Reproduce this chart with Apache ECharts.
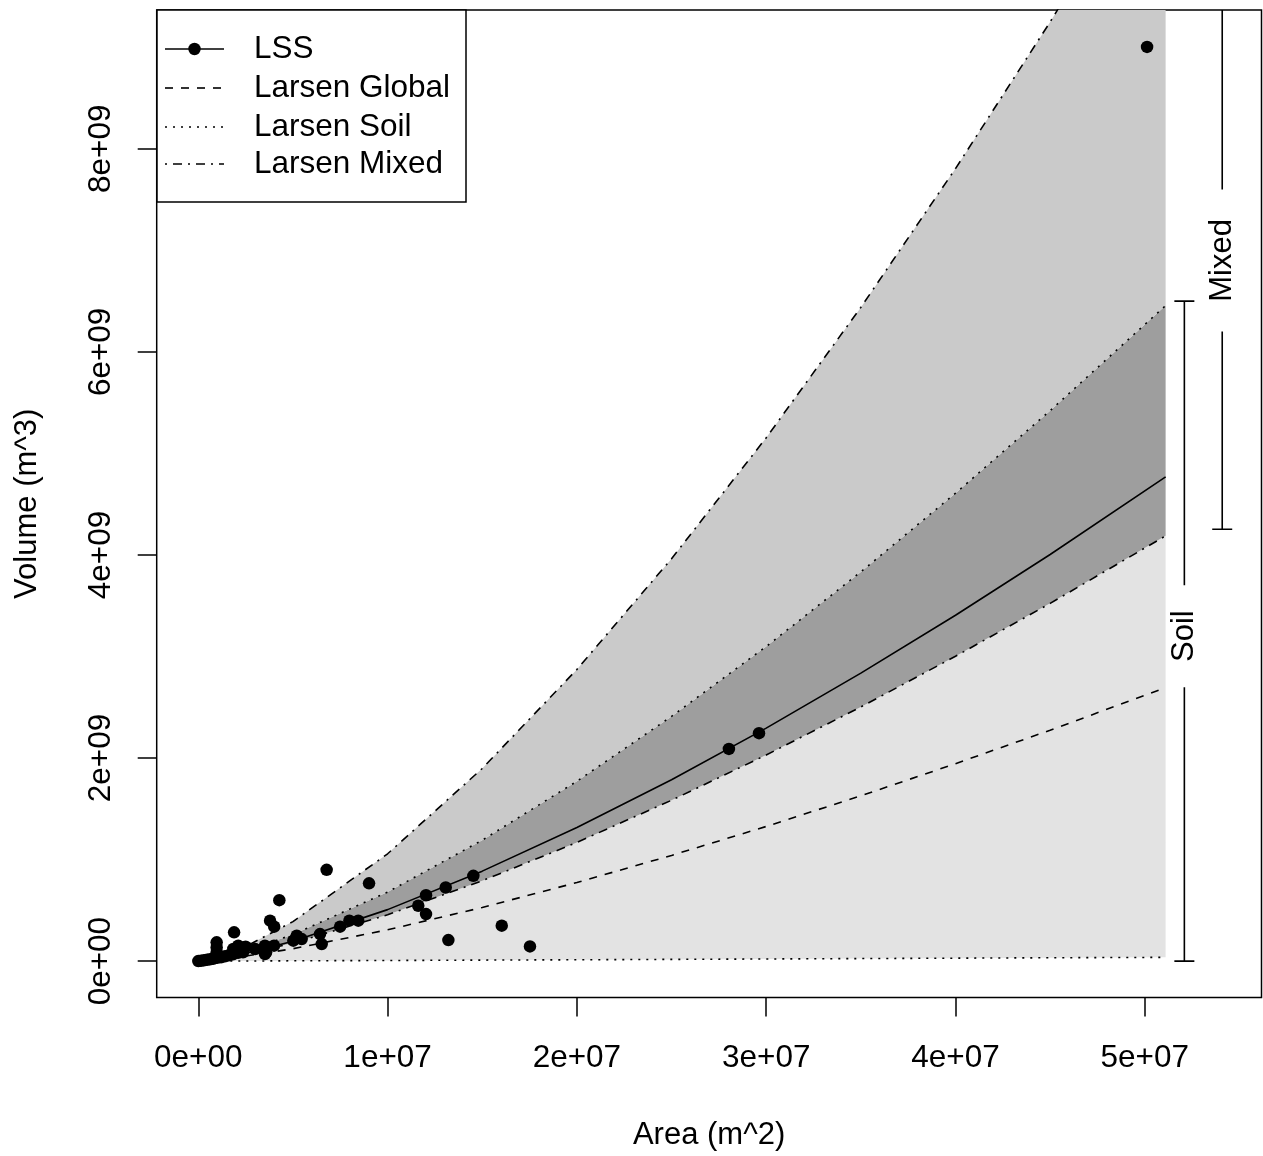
<!DOCTYPE html>
<html>
<head>
<meta charset="utf-8">
<script src="https://cdn.jsdelivr.net/npm/echarts@6/dist/echarts.min.js"></script>
<style>
  html, body { margin: 0; padding: 0; background: #fff; }
  #main { width: 1263px; height: 1156px; }
</style>
</head>
<body>
<div id="main"></div>
<script>
// area in units of 1e7 m^2, volume in units of 1e9 m^3
const curveArea = [0, 0.25, 0.5, 1, 1.5, 2, 2.5, 3, 3.5, 4, 4.5, 5.11];
const lssFit    = [0, 0.076, 0.196, 0.507, 0.886, 1.315, 1.786, 2.294, 2.836, 3.406, 4.004, 4.768];
const globalFit = [0, 0.049, 0.122, 0.308, 0.528, 0.774, 1.041, 1.326, 1.628, 1.944, 2.274, 2.693];
const soilLow   = [0, 0.001, 0.003, 0.006, 0.010, 0.013, 0.017, 0.021, 0.025, 0.029, 0.033, 0.037];
const soilHigh  = [0, 0.100, 0.261, 0.680, 1.191, 1.771, 2.410, 3.098, 3.833, 4.608, 5.421, 6.456];
const mixedLow  = [0, 0.069, 0.178, 0.456, 0.791, 1.169, 1.584, 2.030, 2.503, 3.002, 3.523, 4.188];
const mixedHigh = [0, 0.143, 0.389, 1.057, 1.897, 2.872, 3.963, 5.154, 6.438, 7.805, 9.249, 11.11];

const pointArea = [
  0.000, 0.014, 0.030, 0.046, 0.062, 0.078, 0.099, 0.120, 0.141, 0.162, 0.183, 0.210, 0.236,
  0.097, 0.097, 0.097, 0.189, 0.185, 0.211, 0.250, 0.300, 0.352, 0.358, 0.352, 0.379, 0.401, 0.400, 0.428,
  0.502, 0.520, 0.546, 0.643, 0.652, 0.678, 0.749, 0.798, 0.845, 0.902,
  1.162, 1.203, 1.203, 1.307, 1.321, 1.453, 1.603, 1.752, 2.803, 2.962, 5.012
];
const pointVolume = [
  0.000, 0.003, 0.008, 0.013, 0.018, 0.023, 0.032, 0.037, 0.047, 0.057, 0.067, 0.082, 0.086,
  0.185, 0.135, 0.086, 0.283, 0.119, 0.152, 0.142, 0.119, 0.152, 0.086, 0.070, 0.398, 0.339, 0.152, 0.600,
  0.201, 0.250, 0.217, 0.266, 0.168, 0.899, 0.339, 0.398, 0.398, 0.766,
  0.545, 0.649, 0.463, 0.725, 0.207, 0.840, 0.349, 0.145, 2.090, 2.245, 9.003
];

const xTicks = [0, 1, 2, 3, 4, 5];
const xTickLabels = ['0e+00', '1e+07', '2e+07', '3e+07', '4e+07', '5e+07'];
const yTicks = [0, 2, 4, 6, 8];
const yTickLabels = ['0e+00', '2e+09', '4e+09', '6e+09', '8e+09'];

// range bars at the right: [area position, low, high, label position]
const rangeNames = ['Soil', 'Mixed'];
const soilRange  = [5.209, 0, 6.50, 3.20];
const mixedRange = [5.409, 4.253, 11.11, 6.90];

const FONT = '"Liberation Sans", Arial, Helvetica, sans-serif';
const LIGHT = '#e3e3e3', MEDIUM = '#cacaca', DARK = '#9e9e9e';
const DASHED = [8, 8], DOTTED = [2, 6], DASHDOT = [2, 6, 9, 6];

const pairs = (ys) => curveArea.map((x, i) => [x, ys[i]]);

const chart = echarts.init(document.getElementById('main'));

// shaded band between two curves, drawn as one polygon
function bandSeries(lower, upper, color) {
  return {
    type: 'custom', clip: true, silent: true, z: 1,
    data: [[0, 0]],
    renderItem: function (params, api) {
      const pts = [];
      curveArea.forEach((x, i) => pts.push(api.coord([x, upper[i]])));
      for (let i = curveArea.length - 1; i >= 0; i--) pts.push(api.coord([curveArea[i], lower[i]]));
      return { type: 'polygon', shape: { points: pts }, style: { fill: color } };
    }
  };
}

function curveSeries(data, dash) {
  return {
    type: 'line', data: data, smooth: false,
    showSymbol: false, silent: true, z: 3,
    lineStyle: { color: '#000', width: 1.6, type: dash }
  };
}

const legendY = [49, 88, 127, 164];
const legendNames = ['LSS', 'Larsen Global', 'Larsen Soil', 'Larsen Mixed'];
const legendDash = [null, DASHED, DOTTED, DASHDOT];
const legendGraphics = [{
  type: 'rect', shape: { x: 157, y: 10, width: 309, height: 192 },
  style: { fill: '#fff', stroke: '#000', lineWidth: 1.5 }, z: 100
}];
legendNames.forEach((name, i) => {
  legendGraphics.push({
    type: 'line', shape: { x1: 165, y1: legendY[i], x2: 224, y2: legendY[i] },
    style: { stroke: '#000', lineWidth: 1.6, lineDash: legendDash[i] }, z: 101
  });
  legendGraphics.push({
    type: 'text', x: 254, y: legendY[i],
    style: { text: name, font: '31.5px ' + FONT, fill: '#000', verticalAlign: 'middle' }, z: 101
  });
});
legendGraphics.push({
  type: 'circle', shape: { cx: 194.5, cy: 49, r: 6.2 }, style: { fill: '#000' }, z: 102
});

const option = {
  animation: false,
  graphic: legendGraphics,
  grid: {
    left: 156.7, top: 10, right: 1.5, bottom: 155.7,
    show: true, borderColor: '#000', borderWidth: 1.5, backgroundColor: '#fff'
  },
  xAxis: {
    type: 'value', min: -0.2198, max: 5.6165,
    name: 'Area (m^2)', nameLocation: 'middle', nameGap: 138,
    nameTextStyle: { fontFamily: FONT, fontSize: 31, color: '#000', verticalAlign: 'middle' },
    axisLine: { show: false, onZero: false },
    splitLine: { show: false },
    axisTick: { show: true, length: 19, customValues: xTicks, lineStyle: { color: '#000', width: 1.5 } },
    axisLabel: {
      customValues: xTicks, margin: 61, verticalAlign: 'middle',
      fontFamily: FONT, fontSize: 31.5, color: '#000',
      formatter: (v) => xTickLabels[xTicks.indexOf(v)]
    }
  },
  yAxis: {
    type: 'value', min: -0.3584, max: 9.3666,
    name: 'Volume (m^3)', nameLocation: 'middle', nameGap: 129, nameRotate: 90,
    nameTextStyle: { fontFamily: FONT, fontSize: 31, color: '#000', verticalAlign: 'middle' },
    axisLine: { show: false, onZero: false },
    splitLine: { show: false },
    axisTick: { show: true, length: 19, customValues: yTicks, lineStyle: { color: '#000', width: 1.5 } },
    axisLabel: {
      customValues: yTicks, rotate: 90, margin: 55, verticalAlign: 'middle',
      fontFamily: FONT, fontSize: 31.5, color: '#000',
      formatter: (v) => yTickLabels[yTicks.indexOf(v)]
    }
  },
  series: [
    bandSeries(soilLow, mixedLow, LIGHT),
    bandSeries(mixedLow, soilHigh, DARK),
    bandSeries(soilHigh, mixedHigh, MEDIUM),
    curveSeries(pairs(mixedHigh), DASHDOT),
    curveSeries(pairs(soilHigh), DOTTED),
    curveSeries(pairs(mixedLow), DASHDOT),
    curveSeries(pairs(globalFit), DASHED),
    curveSeries(pairs(soilLow), DOTTED),
    curveSeries(pairs(lssFit), 'solid'),
    {
      type: 'scatter', data: pointArea.map((x, i) => [x, pointVolume[i]]),
      symbol: 'circle', symbolSize: 12.5, silent: true, z: 5,
      itemStyle: { color: '#000', opacity: 1 }
    },
    {
      type: 'custom', clip: true, silent: true, z: 6,
      data: [soilRange, mixedRange],
      renderItem: function (params, api) {
        const x = api.value(0);
        const lo = api.coord([x, api.value(1)]);
        const hi = api.coord([x, api.value(2)]);
        const mid = api.coord([x, api.value(3)]);
        const gap = params.dataIndex === 0 ? 51 : 71;
        const st = { stroke: '#000', lineWidth: 1.6 };
        return {
          type: 'group',
          children: [
            { type: 'line', shape: { x1: lo[0], y1: lo[1], x2: lo[0], y2: mid[1] + gap }, style: st },
            { type: 'line', shape: { x1: lo[0], y1: mid[1] - gap, x2: lo[0], y2: hi[1] }, style: st },
            { type: 'line', shape: { x1: lo[0] - 10, y1: lo[1], x2: lo[0] + 10, y2: lo[1] }, style: st },
            { type: 'line', shape: { x1: hi[0] - 10, y1: hi[1], x2: hi[0] + 10, y2: hi[1] }, style: st },
            {
              type: 'text', x: mid[0], y: mid[1], rotation: Math.PI / 2,
              style: {
                text: rangeNames[params.dataIndex], font: '31px ' + FONT, fill: '#000',
                align: 'center', verticalAlign: 'middle'
              }
            }
          ]
        };
      }
    }
  ]
};

chart.setOption(option);
</script>
</body>
</html>
